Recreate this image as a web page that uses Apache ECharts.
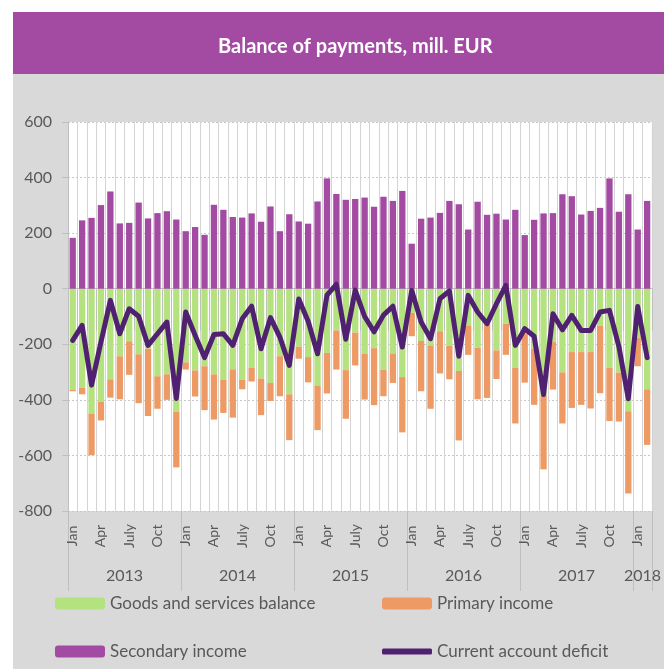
<!DOCTYPE html>
<html>
<head>
<meta charset="utf-8">
<script src="https://cdn.jsdelivr.net/npm/echarts@6/dist/echarts.min.js"></script>
<style>
  html, body { margin: 0; padding: 0; background: #fff; }
  #chart { width: 664px; height: 669px; }
</style>
</head>
<body>
<div id="chart"></div>
<script>
// month names used on the category axis
const monthNames = ['Jan', 'Feb', 'Mar', 'Apr', 'May', 'June', 'July', 'Aug', 'Sep', 'Oct', 'Nov', 'Dec']
const years = [2013, 2014, 2015, 2016, 2017, 2018]
const monthsPerYear = [12, 12, 12, 12, 12, 2]

// mill. EUR, Jan 2013 .. Feb 2018
const goods = [
  -363, -356, -449, -407, -326, -243, -189, -236, -216, -315, -308, -443,
  -265, -294, -279, -308, -328, -290, -328, -284, -323, -339, -243, -380,
  -209, -246, -350, -231, -150, -293, -158, -235, -214, -291, -233, -318,
  -87, -188, -204, -153, -206, -296, -132, -212, -128, -222, -126, -285,
  -162, -216, -383, -192, -301, -228, -228, -228, -134, -285, -302, -441,
  -176, -362
]
const primary = [
  -6, -24, -150, -67, -66, -155, -121, -176, -242, -117, -92, -200,
  -26, -94, -158, -163, -119, -174, -34, -50, -132, -65, -144, -165,
  -43, -91, -159, -146, -141, -175, -118, -164, -205, -96, -106, -199,
  -84, -181, -228, -152, -120, -250, -106, -186, -265, -103, -112, -200,
  -176, -202, -267, -171, -184, -201, -190, -203, -242, -191, -176, -296,
  -103, -200
]
const secondary = [
  183, 246, 255, 301, 350, 235, 237, 310, 253, 272, 279, 249,
  207, 222, 194, 302, 284, 258, 256, 271, 241, 296, 207, 268,
  242, 234, 314, 397, 341, 320, 323, 328, 295, 331, 316, 352,
  162, 252, 256, 273, 316, 304, 213, 313, 266, 270, 249, 284,
  193, 248, 271, 272, 340, 333, 267, 280, 291, 397, 277, 340,
  213, 316
]
const current = [
  -186, -132, -347, -192, -42, -162, -72, -99, -204, -162, -120, -395,
  -84, -168, -248, -165, -162, -204, -108, -63, -216, -104, -174, -276,
  -37, -117, -234, -23, 16, -182, -5, -100, -155, -95, -63, -210,
  -6, -120, -180, -36, -8, -243, -24, -84, -126, -54, 12, -204,
  -144, -171, -381, -90, -148, -96, -150, -150, -84, -78, -208, -396,
  -64, -248
]

// build month / year categories
const monthCats = []
const yearCats = []
const yearLabelAt = {}
years.forEach((y, yi) => {
  const start = monthCats.length
  for (let m = 0; m < monthsPerYear[yi]; m++) {
    monthCats.push(monthNames[m])
    yearCats.push(String(y))
  }
  yearLabelAt[start + Math.floor((monthsPerYear[yi] - 1) / 2)] = String(y)
})

const purple = '#a34aa3'
const green = '#b3e27f'
const orange = '#ee9a65'
const lineColor = '#512171'
const grey = '#595959'

const chart = echarts.init(document.getElementById('chart'))

const legendBase = {
  itemWidth: 50,
  itemHeight: 12,
  itemGap: 0,
  textStyle: { color: grey, fontSize: 17, fontFamily: 'Lato' },
  selectedMode: false
}

chart.setOption({
  animation: false,
  textStyle: { fontFamily: 'Lato' },
  graphic: [
    { type: 'rect', left: 13, top: 12, shape: { width: 651, height: 657 }, style: { fill: '#d9d9d9' }, z: -10 },
    { type: 'rect', left: 13, top: 12, shape: { width: 651, height: 62 }, style: { fill: purple }, z: -9 }
  ],
  title: {
    text: 'Balance of payments, mill. EUR',
    left: 213,
    top: 32,
    textStyle: { color: '#fff', fontSize: 20, fontWeight: 'bold', fontFamily: 'Lato' }
  },
  legend: [
    Object.assign({}, legendBase, { data: ['Goods and services balance'], left: 50, top: 590 }),
    Object.assign({}, legendBase, { data: ['Primary income'], left: 377, top: 590 }),
    Object.assign({}, legendBase, { data: ['Secondary income'], left: 50, top: 638 }),
    Object.assign({}, legendBase, {
      data: [{ name: 'Current account deficit', icon: 'roundRect' }],
      left: 377, top: 638, itemHeight: 6
    })
  ],
  grid: {
    left: 68, right: 8, top: 122, bottom: 158,
    show: true, backgroundColor: '#fff', borderWidth: 0
  },
  xAxis: [
    {
      type: 'category',
      data: monthCats,
      position: 'bottom',
      axisLine: { lineStyle: { color: '#bfbfbf' } },
      axisTick: { show: true, interval: 0, length: 42, lineStyle: { color: '#bfbfbf' } },
      axisLabel: {
        interval: 2,
        rotate: 90,
        align: 'center',
        margin: 25,
        color: grey,
        fontSize: 14
      },
      splitLine: { show: true, interval: 0, lineStyle: { color: '#d4d4d4', width: 1 } }
    },
    {
      type: 'category',
      data: yearCats,
      position: 'bottom',
      axisLine: { show: false },
      axisTick: {
        show: true,
        length: 80,
        interval: (i) => i % 12 === 0,
        lineStyle: { color: '#bfbfbf' }
      },
      axisLabel: {
        interval: 0,
        margin: 57,
        color: grey,
        fontSize: 16,
        padding: [0, 0, 0, 9.5],
        formatter: (v, i) => yearLabelAt[i] || ''
      },
      splitLine: { show: false }
    }
  ],
  yAxis: {
    type: 'value',
    min: -800,
    max: 600,
    interval: 200,
    axisLine: { show: true, lineStyle: { color: '#bfbfbf' } },
    axisTick: { show: true, length: 6, lineStyle: { color: '#bfbfbf' } },
    axisLabel: { color: grey, fontSize: 16, margin: 16 },
    splitLine: { lineStyle: { color: '#c8c8c8', type: [2, 2] } }
  },
  series: [
    {
      name: 'Goods and services balance',
      type: 'bar',
      stack: 'bop',
      data: goods,
      barCategoryGap: '33%',
      itemStyle: { color: green }
    },
    {
      name: 'Primary income',
      type: 'bar',
      stack: 'bop',
      data: primary,
      itemStyle: { color: orange }
    },
    {
      name: 'Secondary income',
      type: 'bar',
      stack: 'bop',
      data: secondary,
      itemStyle: { color: purple }
    },
    {
      name: 'Current account deficit',
      type: 'line',
      data: current,
      symbol: 'none',
      z: 5,
      lineStyle: { color: lineColor, width: 5, cap: 'round', join: 'round' },
      itemStyle: { color: lineColor }
    }
  ]
})
</script>
</body>
</html>
